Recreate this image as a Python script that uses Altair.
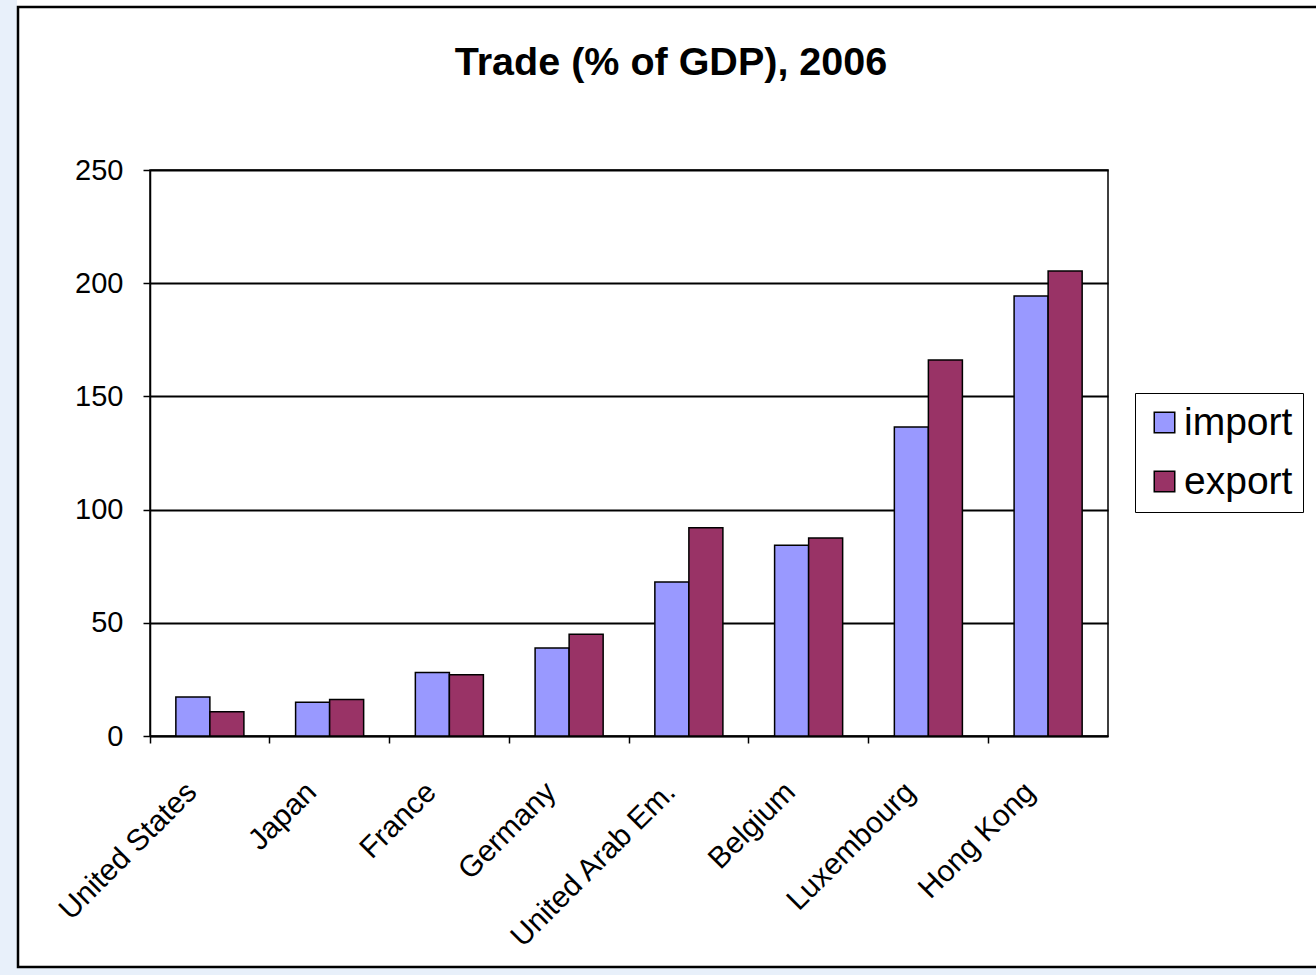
import altair as alt
import pandas as pd

countries = ["United States", "Japan", "France", "Germany", "United Arab Em.",
             "Belgium", "Luxembourg", "Hong Kong"]
import_vals = [17.2, 14.9, 28.1, 38.9, 68.0, 84.2, 136.5, 194.4]
export_vals = [10.7, 16.1, 27.1, 44.9, 92.0, 87.5, 166.1, 205.4]
series = ["import", "export"]
series_colors = ["#9999FF", "#993366"]
y_ticks = [0, 50, 100, 150, 200, 250]

rows = []
for c, iv, ev in zip(countries, import_vals, export_vals):
    rows.append({"country": c, "series": "import", "value": iv})
    rows.append({"country": c, "series": "export", "value": ev})
df = pd.DataFrame(rows)

FONT = "Liberation Sans"

bars = alt.Chart(df).mark_bar(stroke="black", strokeWidth=1.5).encode(
    x=alt.X("country:N", sort=countries, title=None,
            scale=alt.Scale(paddingInner=0, paddingOuter=0),
            axis=alt.Axis(labelAngle=-45, labelAlign="right", labelBaseline="middle",
                          bandPosition=0, labelOffset=-18, labelPadding=44,
                          labelLimit=500,
                          labelFontSize=30, labelFont=FONT, labelColor="black",
                          tickColor="black", tickSize=7, tickWidth=1.5,
                          domainColor="black", domainWidth=1.5, grid=False)),
    xOffset=alt.XOffset("series:N", sort=series,
                        scale=alt.Scale(paddingOuter=0.76, paddingInner=0)),
    y=alt.Y("value:Q", title=None,
            scale=alt.Scale(domain=[0, 250], nice=False),
            axis=alt.Axis(values=y_ticks, labelFontSize=29, labelFont=FONT,
                          labelColor="black", labelPadding=20,
                          tickColor="black", tickSize=7, tickWidth=1.5,
                          domainColor="black", domainWidth=1.5,
                          grid=True, gridColor="black", gridWidth=1.8)),
    color=alt.Color("series:N", sort=series,
                    scale=alt.Scale(domain=series, range=series_colors),
                    legend=alt.Legend(title=None, orient="none", legendX=985, legendY=223,
                                      fillColor="white", strokeColor="black",
                                      padding=10, symbolType="square", symbolSize=420,
                                      symbolStrokeColor="black", symbolStrokeWidth=1.5,
                                      labelFontSize=39, labelFont=FONT, labelColor="black",
                                      labelOffset=0, rowPadding=19)),
)

deco = pd.DataFrame({"k": [0]})
strip_left = alt.Chart(deco).mark_rect(fill="#E8F0FA", stroke=None).encode(
    x=alt.value(-150), x2=alt.value(-133), y=alt.value(-170), y2=alt.value(805))
strip_bottom = alt.Chart(deco).mark_rect(fill="#E8F0FA", stroke=None).encode(
    x=alt.value(-150), x2=alt.value(1166), y=alt.value(798), y2=alt.value(805))
frame = alt.Chart(deco).mark_rect(fill=None, stroke="black", strokeWidth=2.5).encode(
    x=alt.value(-132), x2=alt.value(1190), y=alt.value(-163), y2=alt.value(797))

chart = alt.layer(strip_left, strip_bottom, frame, bars).properties(
    width=958, height=566,
    title=alt.TitleParams("Trade (% of GDP), 2006", font=FONT, fontSize=39.5,
                          fontWeight="bold", color="black", anchor="middle",
                          frame="group", dx=42, offset=0, dy=102, baseline="middle"),
    padding={"left": 150, "top": 170, "right": 208, "bottom": 239},
    autosize=alt.AutoSizeParams(type="none"),
    background="white",
).configure_view(stroke="black", strokeWidth=1.5)

chart.save("out.html", embed_options={"renderer": "svg", "actions": False})
